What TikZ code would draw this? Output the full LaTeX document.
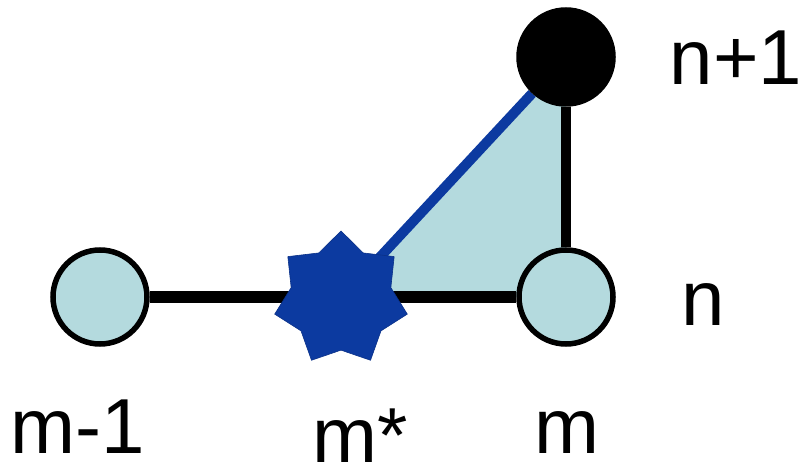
\documentclass[tikz,border=0pt]{standalone}
\usepackage{fontspec}
\setmainfont{Liberation Sans}
\usetikzlibrary{shapes.geometric,backgrounds}
\definecolor{cellblue}{RGB}{180,218,222}
\definecolor{starblue}{RGB}{12,58,160}
\tikzset{
  site/.style={circle, draw=black, line width=5.5pt, fill=cellblue, minimum size=94pt, inner sep=0pt},
  bond/.style={line width=12pt},
  lbl/.style={anchor=base, inner sep=0pt, font=\fontsize{78}{78}\selectfont}
}
\begin{document}
\begin{tikzpicture}[x=1pt, y=1pt]
  \useasboundingbox (0,0) rectangle (805,474);
  \node[site] (mm) at (100,177) {};
  \node[site] (m) at (566,177) {};
  \node[site, fill=black] (top) at (566,417) {};
  \node[star, star points=7, star point ratio=1.33, minimum size=136pt, inner sep=0pt,
        fill=starblue, draw=starblue!85!black, line width=0.6pt] (ms) at (341,175) {};
  \begin{scope}[on background layer]
    \fill[cellblue] (ms.center) -- (top.center) -- (m.center) -- cycle;
    \draw[bond] (mm) -- (m);
    \draw[line width=10pt] (m) -- (top);
    \draw[starblue, line width=10pt] (ms.center) -- (top);
  \end{scope}
  \node[lbl] (ltop) at (736,389) {n+1};
  \node[lbl] (lm) at (703,149) {n};
  \node[lbl] (lmm) at (78,21) {m-1};
  \node[lbl] (lms) at (360,12) {m*};
  \node[lbl] (lmc) at (567,21) {m};
\end{tikzpicture}
\end{document}
